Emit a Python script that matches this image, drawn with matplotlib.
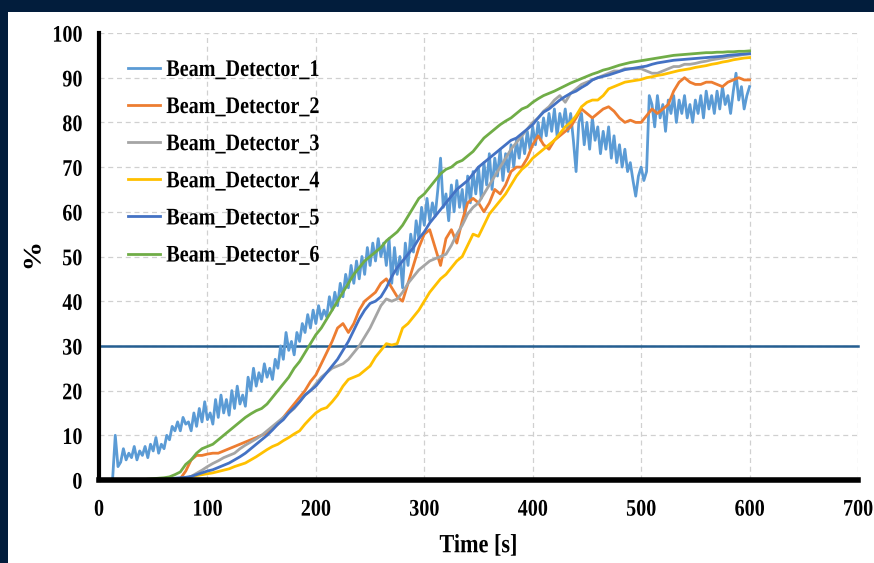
import matplotlib
matplotlib.use("Agg")
import matplotlib.pyplot as plt
from matplotlib.patches import Rectangle
from matplotlib.patheffects import AbstractPathEffect
from matplotlib.transforms import Affine2D

plt.rcParams['font.family'] = ['Liberation Serif', 'DejaVu Serif']
plt.rcParams['font.weight'] = 'bold'

time_s = list(range(0, 601, 5))
time_d1 = [i * 2.5 for i in range(241)]

labels = ["Beam_Detector_1", "Beam_Detector_2", "Beam_Detector_3",
          "Beam_Detector_4", "Beam_Detector_5", "Beam_Detector_6"]
colors = ["#5B9BD5", "#ED7D31", "#A5A5A5", "#FFC000", "#4472C4", "#70AD47"]

det1 = [0, 0, 0, 0, 0, 0, 10, 3, 4, 7,
        4.5, 6, 5, 7.5, 4.5, 6.5, 5.5, 7.5, 5, 8,
        6.5, 9.5, 6, 8, 7, 10, 9, 12, 11, 13,
        11, 14, 12.5, 13, 11, 15, 12, 16, 13, 17.5,
        13.5, 15, 12.5, 18, 14, 19, 15, 18, 14.5, 20,
        16, 21, 17, 19, 16.5, 23, 20, 25, 21, 24,
        22, 26, 23, 25, 22.5, 27, 25, 30, 27, 33,
        29, 31, 28, 33, 31, 35, 33, 37, 34, 38,
        35, 39, 36, 38, 36.5, 41, 38, 42, 39, 44,
        41, 46, 43, 48, 44, 49, 45, 50, 46, 52,
        48, 53, 49, 54, 50, 53, 48, 54, 44, 52,
        46, 50, 43, 53, 48, 55, 51, 58, 54, 61,
        57, 63, 58, 62, 59, 65, 72, 61, 64, 58,
        66, 60, 67, 61, 65, 59, 68, 62, 69, 64,
        70, 63, 71, 66, 73, 65, 72, 68, 74, 67,
        73, 69, 75, 70, 76, 72, 77, 73, 78, 74,
        79, 75, 80, 76, 81, 77, 82, 78, 83, 77,
        82, 79, 83, 78, 82, 76, 69, 80, 82, 75,
        80, 74, 81, 76, 79, 73, 78, 74, 79, 72,
        77, 71, 75, 70, 74, 69, 71, 67, 63.5, 68,
        70, 67, 69, 86, 84, 79, 86, 81, 84, 78,
        85, 82, 86, 80, 85, 82, 86, 81, 84, 80,
        85, 82, 86, 81, 87, 83, 86, 82, 87, 83,
        88, 84, 86, 82, 87, 91, 85, 88, 83, 86,
        88]

det2 = [0] * 15 + [0.3, 2, 4.5, 5.5, 5.5, 5.8, 6, 6, 6.5, 7, 7.5, 8, 8.5, 9, 9.5,
        10, 10.5, 11.5, 12.5, 14, 15.5, 17, 18.5, 20, 22, 23.5, 26, 28.5, 31, 34, 35,
        33, 35, 38, 40, 41, 42, 44, 45, 43, 41, 40, 44, 48, 52, 55, 56, 52, 48, 54, 56,
        53, 58, 62, 63, 62, 60, 62, 65, 64, 66, 69, 70, 70, 72, 75, 77, 75, 74, 76, 77,
        78, 79, 81, 83, 82, 81, 82, 83, 83.5, 82.5, 81, 80, 80.5, 80, 80, 81.5, 83, 82,
        83, 84, 87, 89, 90, 89, 88.5, 88.5, 89, 89, 88.5, 88, 89, 89.5, 90, 89.5, 89.5]

det3 = [0] * 16 + [0.3, 0.8, 1.5, 2.2, 3, 3.7, 4.3, 5, 5.5, 6, 7, 7.8, 8.5, 9.2, 10,
        11, 12, 13, 14, 15, 16, 17.5, 19, 20, 21.5, 23, 24, 25, 25.5, 26, 27, 28.5, 30,
        32, 34, 36.5, 39, 40.5, 40, 40.5, 42, 44, 45.5, 47, 48, 49, 49.5, 50, 50.5, 52.5,
        55, 57, 59.5, 61, 62, 64, 66, 68, 70, 72, 74, 75.5, 77, 78.5, 80, 81, 82.5, 83.5,
        85, 86, 84.5, 86.5, 87.5, 88.5, 89, 89.5, 90, 90.5, 91, 91.5, 91.5, 92, 92, 92,
        92, 91.5, 91, 91, 91.5, 92, 92.5, 92.5, 93, 93, 93.2, 93.5, 93.7, 94, 94.2, 94.4,
        94.6, 94.8, 95, 95.2, 95.3]

det4 = [0] * 16 + [0.3, 0.8, 1, 1.2, 1.4, 1.6, 1.9, 2.2, 2.5, 3, 3.4, 3.8, 4.5, 5.2, 6,
        6.8, 7.5, 8, 8.8, 9.5, 10.3, 11, 12.5, 13.8, 15, 15.8, 16.2, 17.5, 19, 21, 22.5,
        23, 23.5, 24.5, 25.5, 27.5, 29, 30.5, 30.2, 30.5, 34, 35, 36.5, 38, 40, 42, 43.5,
        45, 46, 47.5, 49, 50, 52.5, 55, 54.5, 57, 59.5, 61, 62.5, 64, 66, 68, 69.5, 70.5,
        72, 73, 74, 75, 76, 77.5, 79, 80, 81.5, 83.5, 84.5, 85, 85, 86, 87.5, 88, 88.5,
        89, 89.2, 89.4, 89.6, 90, 90.2, 90.5, 90.7, 91, 91.3, 91.6, 91.8, 92, 92.3, 92.5,
        92.7, 93, 93.2, 93.5, 93.7, 94, 94.2, 94.4, 94.5]

det5 = [0] * 12 + [0.2, 0.3, 0.4, 0.5, 0.6, 0.8, 1.2, 1.6, 2, 2.3, 2.8, 3.3, 3.8, 4.5,
        5.2, 6, 7, 8, 9, 10, 11.2, 12.5, 13.5, 15, 16.2, 17.5, 19, 20, 21, 22.5, 24, 25.5,
        27, 29, 31, 33.5, 36, 38, 39.5, 40, 41, 43, 45.5, 47.5, 49, 50.5, 52, 54, 55.5,
        57.5, 59, 60.5, 62, 63.5, 65, 66, 67, 68.5, 70, 71, 72, 73, 74, 75, 76, 76.5, 77.5,
        78.5, 79.5, 81, 82.3, 83, 84, 85, 85.8, 86.5, 87, 87.8, 88.5, 89.5, 90, 90.3, 90.6,
        91, 91.4, 91.8, 92, 92.2, 92.4, 92.6, 93, 93.3, 93.5, 93.7, 93.9, 94, 94.1, 94.2,
        94.3, 94.4, 94.5, 94.6, 94.7, 94.8, 95, 95.1, 95.2, 95.3, 95.4]

det6 = [0] * 9 + [0.2, 0.3, 0.4, 0.5, 0.7, 1.2, 1.8, 3.5, 4.5, 6, 7, 7.5, 8, 9, 10, 11,
        12, 13, 14, 14.8, 15.5, 16, 17, 18.5, 20, 21.5, 23, 25, 26.5, 28.5, 30.5, 32.5, 34,
        36, 38, 40, 42, 44, 46, 47.5, 49, 50, 51, 52, 53.5, 54.5, 55.5, 57, 59, 61, 63, 64,
        65.5, 67, 68.5, 69.5, 70, 71, 71.5, 72.5, 73.5, 75, 76.5, 77.5, 78.5, 79.5, 80.3,
        81, 82, 83, 83.5, 84.5, 85.3, 86, 86.5, 87, 87.6, 88.2, 88.8, 89.3, 89.8, 90.3,
        90.8, 91.2, 91.7, 92, 92.4, 92.8, 93.1, 93.4, 93.6, 93.8, 94, 94.2, 94.4, 94.6,
        94.8, 95, 95.1, 95.2, 95.3, 95.4, 95.5, 95.6, 95.6, 95.7, 95.7, 95.8, 95.8, 95.9,
        95.9, 96]

threshold = 30
x_ticks = list(range(0, 701, 100))
y_ticks = list(range(0, 101, 10))

series_x = [time_d1, time_s, time_s, time_s, time_s, time_s]
series = [det1, det2, det3, det4, det5, det6]


class VStretch(AbstractPathEffect):
    """Stretch text vertically about its own centre (reference text looks tall/narrow)."""

    def __init__(self, s):
        super().__init__()
        self.s = s

    def draw_path(self, renderer, gc, tpath, affine, rgbFace=None):
        ext = tpath.get_extents(affine)
        cy = 0.5 * (ext.y0 + ext.y1)
        t = affine + Affine2D().translate(0, -cy).scale(1, self.s).translate(0, cy)
        renderer.draw_path(gc, tpath, t, rgbFace)


stretch = [VStretch(1.18)]

W, H = 874, 563
fig = plt.figure(figsize=(W / 100, H / 100), dpi=100, facecolor="#021d3c")
panel = Rectangle((8 / W, 0), 1 - 8 / W, (H - 12) / H,
                  transform=fig.transFigure, facecolor="white",
                  edgecolor="none", zorder=-10)
fig.add_artist(panel)

ax = fig.add_axes([99 / W, (H - 480) / H, (858 - 99) / W, (480 - 33) / H])
ax.set_zorder(1)
ax.set_facecolor("white")

for xs, vals, lab, col in zip(series_x, series, labels, colors):
    ax.plot(xs, vals, color=col, lw=2.0, label=lab, solid_joinstyle="round")

ax.axhline(threshold, color="#255E91", lw=1.8, clip_on=False, zorder=1)

ax.set_xlim(0, 700)
ax.set_ylim(0, 100)
ax.set_xticks(x_ticks)
ax.set_yticks(y_ticks)
ax.grid(True, color="#D0D0D0", ls=(0, (4, 3)), lw=0.9)
ax.set_axisbelow(True)

for s in ("top", "right"):
    ax.spines[s].set_visible(False)
ax.spines["left"].set_linewidth(3)
ax.spines["bottom"].set_linewidth(4)
ax.spines["left"].set_zorder(5)
ax.spines["bottom"].set_zorder(5)

ax.tick_params(axis="both", length=0, labelsize=14.5)
ax.tick_params(axis="y", pad=12)
ax.tick_params(axis="x", pad=14)
for t in ax.get_xticklabels() + ax.get_yticklabels():
    t.set_fontweight("bold")
    t.set_path_effects(stretch)

ax.set_xlabel("Time [s]", fontsize=16, fontweight="bold", labelpad=12,
              path_effects=stretch)
ax.set_ylabel("%", fontsize=18, fontweight="bold", labelpad=5,
              path_effects=stretch)

leg = ax.legend(loc="upper left", bbox_to_anchor=(29 / 759, (480 - 60) / 447),
                frameon=False, fontsize=14.5, handlelength=1.6, handletextpad=0.3,
                borderpad=0, borderaxespad=0, labelspacing=0.85)
for t in leg.get_texts():
    t.set_fontweight("bold")
    t.set_path_effects(stretch)

fig.savefig("out.png", dpi=100, facecolor=fig.get_facecolor())
